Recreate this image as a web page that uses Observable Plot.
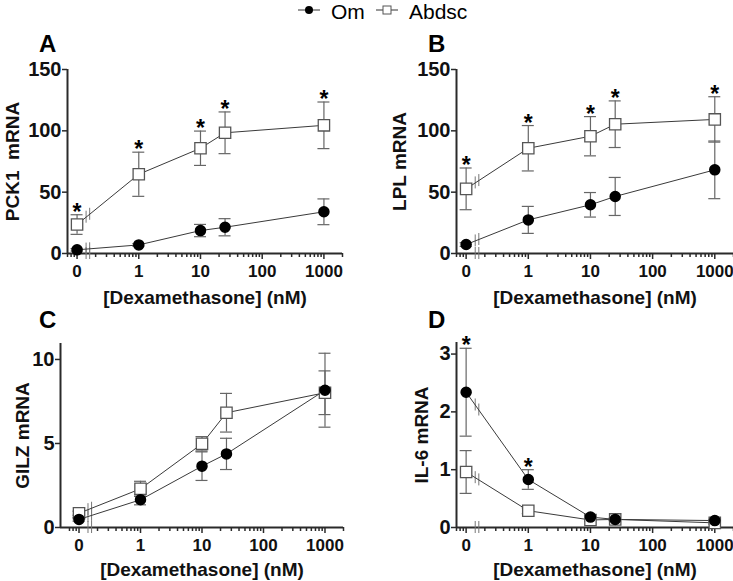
<!DOCTYPE html>
<html><head><meta charset="utf-8">
<script src="https://cdn.jsdelivr.net/npm/d3@7"></script>
<script src="https://cdn.jsdelivr.net/npm/@observablehq/plot@0.6"></script>
<style>
body{margin:0;background:#fff;}
#fig{position:relative;width:733px;height:581px;overflow:hidden;font-family:"Liberation Sans",Arial,sans-serif;}
#fig svg{position:absolute;overflow:visible;}
</style></head><body><div id="fig"></div>
<script>
// ---- data ----
const series = ["Om", "Abdsc"];
const doses = [0, 1, 10, 25, 1000];
const doseTicks = [0, 1, 10, 100, 1000];
const xLabel = "[Dexamethasone] (nM)";
const panelLetters = ["A", "B", "C", "D"];

const pck1Om = [3, 7, 18.7, 21.4, 34];
const pck1OmSE = [1, 1, 5, 7, 10.5];
const pck1Ab = [23.6, 64.6, 85.8, 98.4, 104.5];
const pck1AbSE = [8, 18, 14, 17, 19];
const pck1Stars = [0, 1, 10, 25, 1000];
const pck1Ticks = [0, 50, 100, 150];

const lplOm = [7.3, 27.4, 39.7, 46.5, 68.2];
const lplOmSE = [1.5, 11, 10, 15.5, 23.5];
const lplAb = [52.7, 85.8, 95.6, 105.4, 109.3];
const lplAbSE = [17, 18.5, 16, 19, 18.5];
const lplStars = [0, 1, 10, 25, 1000];
const lplTicks = [0, 50, 100, 150];

const gilzOm = [0.48, 1.65, 3.65, 4.38, 8.17];
const gilzOmSE = [0.1, 0.3, 0.85, 0.93, 2.2];
const gilzAb = [0.85, 2.3, 4.98, 6.83, 8.02];
const gilzAbSE = [0.12, 0.45, 0.43, 1.15, 1.3];
const gilzStars = [];
const gilzTicks = [0, 5, 10];

const il6Om = [2.34, 0.83, 0.18, 0.14, 0.12];
const il6OmSE = [0.76, 0.17, 0.03, 0.02, 0.02];
const il6Ab = [0.96, 0.29, 0.13, 0.14, 0.08];
const il6AbSE = [0.37, 0.05, 0.02, 0.02, 0.02];
const il6Stars = [0, 1];
const il6Ticks = [0, 1, 2, 3];

// ---- helpers ----
const ZERO_POS = 0.1;             // where dose "0" sits on the log axis
const breakXs = [0.14, 0.16];     // axis break marks
const pos = d => d === 0 ? ZERO_POS : d;
const minorTicks = [];
for (const e of [-2, -1, 0, 1, 2, 3]) for (let k = 2; k <= 9; k++) {
  const v = k * Math.pow(10, e);
  if (v >= 0.07 && v <= 2000) minorTicks.push(+v.toPrecision(3));
}

function rows(name, vals, ses) {
  return doses.map((d, i) => ({series: name, dose: d, x: pos(d), v: vals[i], se: ses[i]}));
}

function panel(cfg) {
  const om = rows("Om", cfg.om, cfg.omSE);
  const ab = rows("Abdsc", cfg.ab, cfg.abSE);
  const all = [...om, ...ab];
  const starSrc = cfg.starSeries === "Om" ? om : ab;
  const stars = starSrc.filter(r => cfg.stars.includes(r.dose));
  // break marks on each series line (interpolated in log-x between dose 0 and 1)
  const brk = [];
  for (const s of [om, ab]) {
    for (const bx of breakXs) {
      const t = Math.log10(bx / ZERO_POS);
      brk.push({x: bx, v: s[0].v + t * (s[1].v - s[0].v)});
    }
  }
  for (const bx of breakXs) brk.push({x: bx, v: 0});
  const axisCol = "#2a2a2a";
  const svg = Plot.plot({
    width: cfg.width, height: cfg.height,
    marginTop: cfg.mt, marginBottom: cfg.mb, marginLeft: cfg.ml, marginRight: cfg.mr,
    style: {fontFamily: "'Liberation Sans', Arial, sans-serif", background: "transparent", overflow: "visible"},
    x: {type: "log", domain: cfg.xDomain},
    y: {domain: cfg.yDomain},
    marks: [
      // axis lines
      Plot.ruleY([0], {stroke: axisCol, strokeWidth: 2}),
      Plot.ruleX([cfg.xDomain[0]], {stroke: axisCol, strokeWidth: 2}),
      Plot.axisX(minorTicks, {tickSize: 4, tickFormat: () => "", stroke: axisCol, strokeWidth: 1.5, label: null}),
      Plot.axisX(doseTicks.map(pos), {tickSize: 6, tickPadding: 5, tickFormat: d => d === ZERO_POS ? "0" : String(d),
        fontSize: 17, fontWeight: "bold", stroke: axisCol, strokeWidth: 1.5, fill: "#111", label: null}),
      Plot.axisY(cfg.yTicks, {tickSize: 5, tickPadding: 1, tickFormat: d => String(d), fontSize: 20, fontWeight: "bold",
        stroke: axisCol, strokeWidth: 1.5, fill: "#111", label: null}),
      // break marks
      Plot.ruleX(brk, {x: "x", y1: "v", y2: "v", insetTop: -6, insetBottom: -6, stroke: "#777", strokeWidth: 1}),
      // error bars
      Plot.ruleX(all, {x: "x", y1: d => d.v - d.se, y2: d => d.v + d.se, stroke: "#666", strokeWidth: 1.2}),
      Plot.ruleY(all, {x1: "x", x2: "x", y: d => d.v + d.se, insetLeft: -6, insetRight: -6, stroke: "#666", strokeWidth: 1.2}),
      Plot.ruleY(all, {x1: "x", x2: "x", y: d => d.v - d.se, insetLeft: -6, insetRight: -6, stroke: "#666", strokeWidth: 1.2}),
      // lines
      Plot.line(all, {x: "x", y: "v", z: "series", stroke: "#3a3a3a", strokeWidth: 1}),
      // markers
      Plot.dot(ab, {x: "x", y: "v", symbol: "square", r: 6.4, fill: "white", stroke: "#555", strokeWidth: 1.3}),
      Plot.dot(om, {x: "x", y: "v", r: 5, fill: "#000", stroke: "#000"}),
      // significance stars
      Plot.text(stars, {x: "x", y: d => d.v + d.se, text: () => "*", dy: 5, lineAnchor: "bottom",
        fontSize: 23, fontWeight: "bold", fill: "#000"}),
      // axis titles
      Plot.text([xLabel], {frameAnchor: "bottom", dy: cfg.xLabelDy, lineAnchor: "bottom", textAnchor: "middle", text: d => d,
        fontSize: 19, fontWeight: "bold", fill: "#111"}),
      Plot.text([cfg.yLabel], {frameAnchor: "left", dx: cfg.yLabelDx, rotate: -90, textAnchor: "middle", lineAnchor: "middle", text: d => d,
        fontSize: 19, fontWeight: "bold", fill: "#111"})
    ]
  });
  svg.style.left = cfg.left + "px";
  svg.style.top = cfg.top + "px";
  return svg;
}

const fig = document.getElementById("fig");
const xDom = [0.07, 2000];
fig.appendChild(panel({left: 0, top: 40, width: 366, height: 270, mt: 29, mb: 57, ml: 67, mr: 24,
  xDomain: xDom, yDomain: [0, 150], yTicks: pck1Ticks, yLabel: "PCK1  mRNA", yLabelDx: -55, xLabelDy: 50,
  om: pck1Om, omSE: pck1OmSE, ab: pck1Ab, abSE: pck1AbSE, stars: pck1Stars, starSeries: "Abdsc"}));
fig.appendChild(panel({left: 366, top: 40, width: 367, height: 270, mt: 29, mb: 57, ml: 90, mr: 0,
  xDomain: xDom, yDomain: [0, 150], yTicks: lplTicks, yLabel: "LPL mRNA", yLabelDx: -57, xLabelDy: 50,
  om: lplOm, omSE: lplOmSE, ab: lplAb, abSE: lplAbSE, stars: lplStars, starSeries: "Abdsc"}));
fig.appendChild(panel({left: 0, top: 320, width: 366, height: 261, mt: 23, mb: 54, ml: 60, mr: 23,
  xDomain: [0.05, 2000], yDomain: [0, 10.95], yTicks: gilzTicks, yLabel: "GILZ mRNA", yLabelDx: -38, xLabelDy: 48,
  om: gilzOm, omSE: gilzOmSE, ab: gilzAb, abSE: gilzAbSE, stars: gilzStars, starSeries: "Abdsc"}));
fig.appendChild(panel({left: 366, top: 320, width: 367, height: 261, mt: 22, mb: 54, ml: 90, mr: 0,
  xDomain: xDom, yDomain: [0, 3.2], yTicks: il6Ticks, yLabel: "IL-6 mRNA", yLabelDx: -35, xLabelDy: 48,
  om: il6Om, omSE: il6OmSE, ab: il6Ab, abSE: il6AbSE, stars: il6Stars, starSeries: "Om"}));

// ---- overlay: legend + panel letters ----
const ov = d3.select(fig).append("svg").attr("width", 733).attr("height", 581)
  .style("left", "0px").style("top", "0px").style("pointer-events", "none")
  .attr("font-family", "'Liberation Sans', Arial, sans-serif");
const letterPos = [[39, 52], [428, 52], [39, 328], [428, 328]];
panelLetters.forEach((L, i) => ov.append("text").attr("x", letterPos[i][0]).attr("y", letterPos[i][1])
  .attr("font-size", 24).attr("font-weight", "bold").attr("fill", "#000").text(L));
// legend
const lg = ov.append("g");
lg.append("line").attr("x1", 298).attr("x2", 320).attr("y1", 10).attr("y2", 10).attr("stroke", "#333").attr("stroke-width", 1);
lg.append("circle").attr("cx", 309).attr("cy", 10).attr("r", 4).attr("fill", "#000");
lg.append("text").attr("x", 331).attr("y", 19).attr("font-size", 21).attr("fill", "#000").text(series[0]);
lg.append("line").attr("x1", 376).attr("x2", 398).attr("y1", 10).attr("y2", 10).attr("stroke", "#333").attr("stroke-width", 1);
lg.append("rect").attr("x", 383).attr("y", 6).attr("width", 8).attr("height", 8).attr("fill", "#fff").attr("stroke", "#555").attr("stroke-width", 1);
lg.append("text").attr("x", 409).attr("y", 19).attr("font-size", 21).attr("fill", "#000").text(series[1]);
</script></body></html>
